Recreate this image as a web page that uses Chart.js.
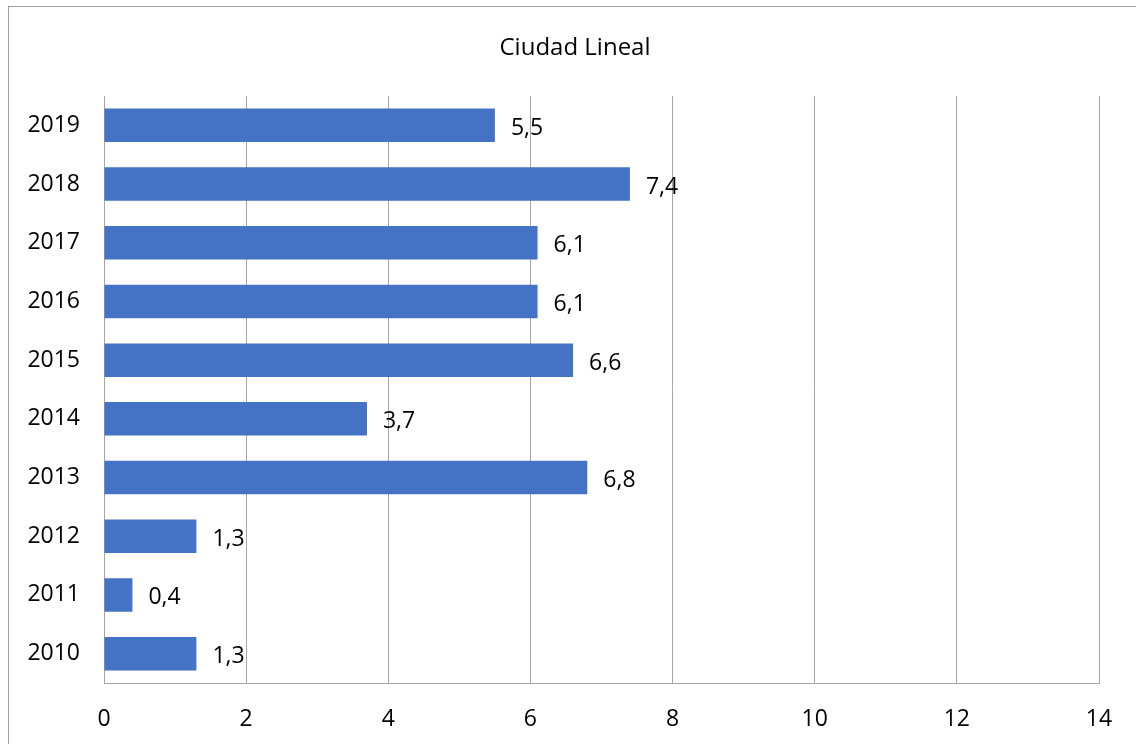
<!DOCTYPE html>
<html>
<head>
<meta charset="utf-8">
<script src="https://cdn.jsdelivr.net/npm/chart.js@4/dist/chart.umd.min.js"></script>
<style>
  html, body { margin: 0; padding: 0; background: #fff; }
  #wrap { width: 1136px; height: 744px; }
</style>
</head>
<body>
<div id="wrap"><canvas id="grafico"></canvas></div>
<script>
// Datos del gráfico
const anios = ["2019", "2018", "2017", "2016", "2015", "2014", "2013", "2012", "2011", "2010"];
const valores = [5.5, 7.4, 6.1, 6.1, 6.6, 3.7, 6.8, 1.3, 0.4, 1.3];
const titulo = "Ciudad Lineal";

const fuente = "'Open Sans', 'Liberation Sans', sans-serif";

// Marco gris alrededor del gráfico y título
const marcoPlugin = {
    id: "marco",
    beforeDraw(chart) {
        const ctx = chart.ctx;
        ctx.save();
        ctx.strokeStyle = "#a0a0a0";
        ctx.lineWidth = 1;
        ctx.strokeRect(8.5, 6.5, 1200, 800);
        ctx.fillStyle = "#000";
        ctx.font = "24px " + fuente;
        ctx.textAlign = "center";
        ctx.textBaseline = "middle";
        ctx.fillText(titulo, 575, 48);
        ctx.restore();
    }
};

// Etiquetas de valor al final de cada barra (coma decimal)
const etiquetasPlugin = {
    id: "etiquetas",
    afterDatasetsDraw(chart) {
        const ctx = chart.ctx;
        const meta = chart.getDatasetMeta(0);
        ctx.save();
        ctx.fillStyle = "#000";
        ctx.font = "23px " + fuente;
        ctx.textAlign = "left";
        ctx.textBaseline = "middle";
        meta.data.forEach((barra, i) => {
            const texto = valores[i].toFixed(1).replace(".", ",");
            ctx.fillText(texto, barra.x + 16, barra.y + 3);
        });
        ctx.restore();
    }
};

new Chart(document.getElementById("grafico"), {
    type: "bar",
    data: {
        labels: anios,
        datasets: [{
            data: valores,
            backgroundColor: "#4472C4",
            borderWidth: 0,
            barPercentage: 0.57,
            categoryPercentage: 1
        }]
    },
    options: {
        indexAxis: "y",
        responsive: true,
        maintainAspectRatio: false,
        animation: false,
        layout: { padding: { top: 96, right: 37, left: 0, bottom: 0 } },
        plugins: {
            legend: { display: false },
            tooltip: { enabled: false }
        },
        scales: {
            x: {
                min: 0,
                max: 14,
                ticks: {
                    stepSize: 2,
                    color: "#000",
                    font: { size: 23, family: fuente },
                    padding: 23
                },
                grid: { color: "#a6a6a6", drawTicks: false },
                border: { display: true, color: "#a6a6a6" },
                afterFit(scale) { scale.height = 61; }
            },
            y: {
                ticks: {
                    color: "#000",
                    font: { size: 23, family: fuente },
                    padding: 24
                },
                grid: { display: false, drawTicks: false },
                border: { display: true, color: "#a6a6a6" },
                afterFit(scale) { scale.width = 104; }
            }
        }
    },
    plugins: [marcoPlugin, etiquetasPlugin]
});
</script>
</body>
</html>
